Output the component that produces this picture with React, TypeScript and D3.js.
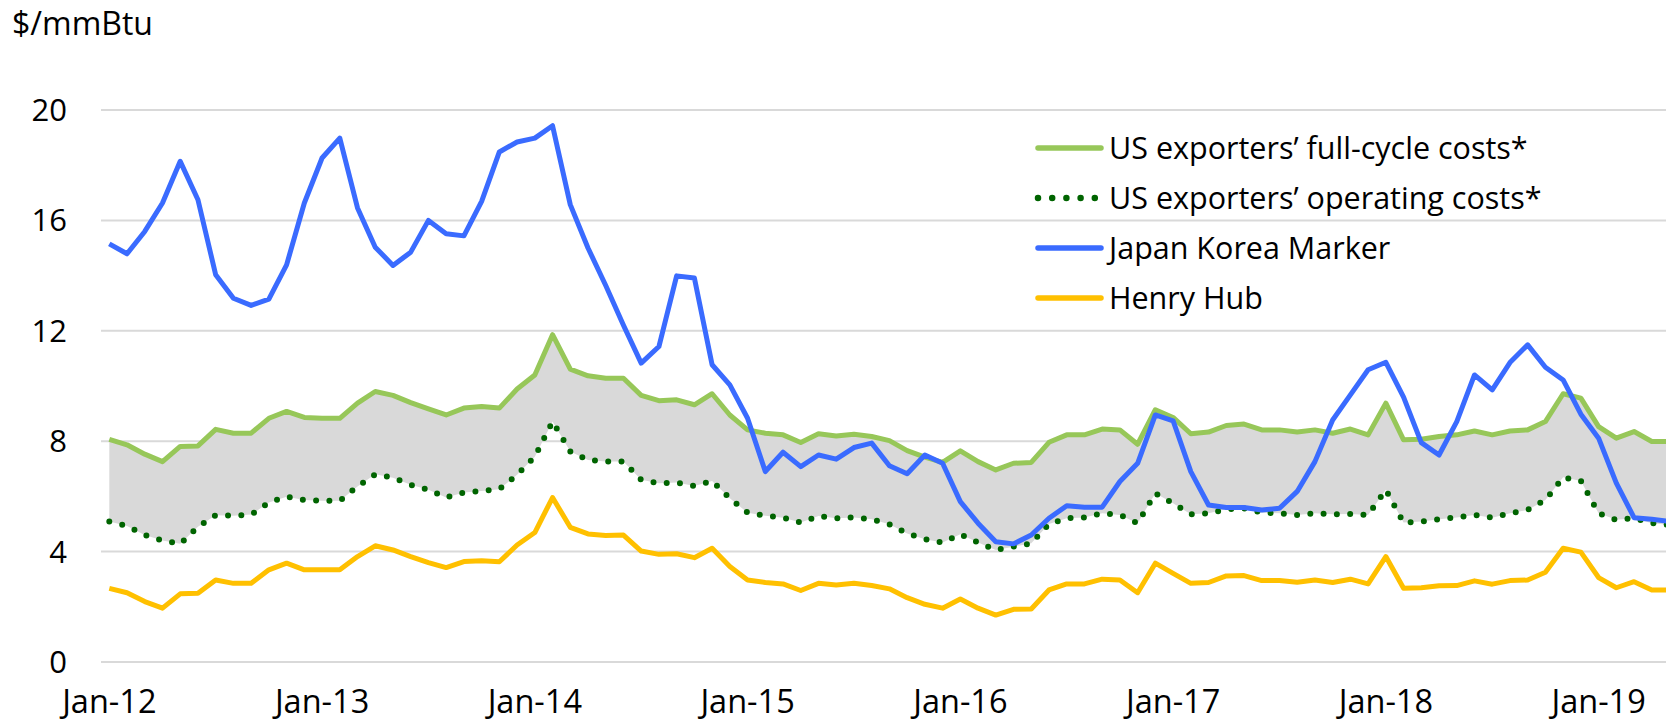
import React, { useEffect } from 'react';
import * as d3 from 'd3';

// monthly, Jan-12 .. May-19 ($/mmBtu)
const jkm = [
  15.15, 14.79, 15.6, 16.63, 18.14, 16.75, 14.03, 13.18, 12.92, 13.15, 14.39, 16.63,
  18.26, 18.98, 16.45, 15.03, 14.37, 14.85, 16.0, 15.52, 15.44, 16.69, 18.48, 18.84,
  18.98, 19.43, 16.57, 15.0, 13.64, 12.2, 10.83, 11.43, 13.99, 13.91, 10.77, 10.04,
  8.83, 6.9, 7.6, 7.08, 7.5, 7.35, 7.77, 7.93, 7.11, 6.82, 7.5, 7.2,
  5.81, 5.03, 4.36, 4.28, 4.6, 5.21, 5.66, 5.61, 5.61, 6.54, 7.2, 8.95,
  8.74, 6.9, 5.69, 5.6, 5.6, 5.51, 5.57, 6.18, 7.26, 8.77, 9.68, 10.59,
  10.86, 9.6, 7.95, 7.5, 8.71, 10.4, 9.86, 10.85, 11.49, 10.68, 10.22, 8.98,
  8.11, 6.48, 5.23, 5.17, 5.09,
];

const fullCycle = [
  8.07, 7.87, 7.53, 7.26, 7.81, 7.83, 8.43, 8.29, 8.29, 8.83, 9.08, 8.86,
  8.83, 8.83, 9.38, 9.8, 9.66, 9.4, 9.17, 8.95, 9.2, 9.26, 9.2, 9.89,
  10.4, 11.86, 10.61, 10.37, 10.28, 10.28, 9.66, 9.47, 9.5, 9.32, 9.72, 8.95,
  8.41, 8.29, 8.23, 7.95, 8.27, 8.19, 8.25, 8.17, 8.02, 7.66, 7.42, 7.23,
  7.65, 7.26, 6.96, 7.2, 7.23, 7.96, 8.23, 8.23, 8.44, 8.41, 7.89, 9.14,
  8.86, 8.27, 8.33, 8.57, 8.62, 8.41, 8.41, 8.33, 8.41, 8.29, 8.44, 8.23,
  9.38, 8.05, 8.07, 8.17, 8.23, 8.37, 8.23, 8.37, 8.41, 8.71, 9.72, 9.56,
  8.53, 8.11, 8.35, 7.99, 7.99,
];

const operating = [
  5.09, 4.93, 4.6, 4.4, 4.28, 4.9, 5.32, 5.3, 5.34, 5.78, 5.99, 5.87,
  5.84, 5.84, 6.36, 6.8, 6.68, 6.42, 6.24, 5.96, 6.14, 6.2, 6.26, 6.78,
  7.44, 8.71, 7.63, 7.32, 7.26, 7.26, 6.6, 6.48, 6.5, 6.38, 6.56, 5.93,
  5.41, 5.3, 5.23, 5.05, 5.29, 5.21, 5.24, 5.17, 4.99, 4.66, 4.45, 4.33,
  4.63, 4.33, 4.06, 4.18, 4.3, 5.0, 5.21, 5.24, 5.39, 5.33, 5.03, 6.11,
  5.75, 5.35, 5.39, 5.53, 5.57, 5.41, 5.39, 5.33, 5.39, 5.35, 5.36, 5.33,
  6.24, 5.05, 5.09, 5.17, 5.24, 5.33, 5.23, 5.39, 5.51, 5.87, 6.69, 6.56,
  5.39, 5.15, 5.21, 5.03, 4.97,
];

const henryHub = [
  2.67, 2.51, 2.19, 1.95, 2.47, 2.49, 2.97, 2.85, 2.85, 3.34, 3.58, 3.34,
  3.34, 3.34, 3.82, 4.21, 4.06, 3.82, 3.6, 3.42, 3.64, 3.67, 3.63, 4.24,
  4.69, 5.96, 4.88, 4.64, 4.58, 4.6, 4.02, 3.9, 3.92, 3.78, 4.12, 3.46,
  2.97, 2.88, 2.83, 2.59, 2.85, 2.79, 2.85, 2.77, 2.65, 2.33, 2.09, 1.95,
  2.28, 1.95, 1.7, 1.91, 1.92, 2.61, 2.83, 2.83, 3.0, 2.97, 2.51, 3.58,
  3.21, 2.85, 2.88, 3.12, 3.13, 2.95, 2.95, 2.89, 2.97, 2.88, 3.0, 2.83,
  3.82, 2.67, 2.69, 2.76, 2.77, 2.94, 2.82, 2.95, 2.97, 3.25, 4.12, 3.98,
  3.06, 2.69, 2.91, 2.61, 2.61,
];

const xTickLabels = ['Jan-12', 'Jan-13', 'Jan-14', 'Jan-15', 'Jan-16', 'Jan-17', 'Jan-18', 'Jan-19'];
const yTicks = [0, 4, 8, 12, 16, 20];
const legendLabels = [
  'US exporters\u2019 full-cycle costs*',
  'US exporters\u2019 operating costs*',
  'Japan Korea Marker',
  'Henry Hub',
];

const W = 1666;
const H = 722;
const FONT = '"Open Sans", "Liberation Sans", Arial, sans-serif';

const GREEN = '#97c759';
const DOTS = '#006400';
const BLUE = '#3a6bff';
const GOLD = '#ffc000';

export default function App() {
  useEffect(() => {
    document.body.style.margin = '0';
  }, []);

  const x = d3.scaleLinear().domain([0, 84]).range([109.3, 1598.6]);
  const y = d3.scaleLinear().domain([0, 20]).range([662, 110]);
  const idx = d3.range(jkm.length);

  const line = (vals: number[]) =>
    d3.line<number>().x(i => x(i)).y(i => y(vals[i]))(idx) || '';

  const band = d3.area<number>()
    .x(i => x(i))
    .y0(i => y(operating[i]))
    .y1(i => y(fullCycle[i]))(idx) || '';

  // legend rows
  const legY = [148, 198, 248, 298];
  const legStyles = [
    { stroke: GREEN, dash: undefined, w: 5.5 },
    { stroke: DOTS, dash: '0 14.2', w: 6.5 },
    { stroke: BLUE, dash: undefined, w: 5.5 },
    { stroke: GOLD, dash: undefined, w: 5.5 },
  ];

  return (
    <svg width={W} height={H} style={{ position: 'absolute', left: 0, top: 0, background: '#fff' }}
      fontFamily={FONT}>
      <text x={12} y={35} fontSize={32} fill="#000">$/mmBtu</text>

      {/* gridlines + y labels */}
      {yTicks.map(t => (
        <g key={t}>
          <line x1={101} x2={W} y1={y(t)} y2={y(t)} stroke="#d9d9d9" strokeWidth={2} />
          <text x={67} y={y(t) + 11} textAnchor="end" fontSize={31} fill="#000">{t}</text>
        </g>
      ))}

      {/* x labels */}
      {xTickLabels.map((lab, k) => (
        <text key={lab} x={x(k * 12)} y={713} textAnchor="middle" fontSize={32.5} fill="#000">{lab}</text>
      ))}

      <path d={band} fill="#d9d9d9" stroke="none" />
      <path d={line(fullCycle)} fill="none" stroke={GREEN} strokeWidth={5} strokeLinejoin="round" />
      <path d={line(operating)} fill="none" stroke={DOTS} strokeWidth={6} strokeLinecap="round"
        strokeDasharray="0 13.3" />
      <path d={line(henryHub)} fill="none" stroke={GOLD} strokeWidth={5} strokeLinejoin="round" />
      <path d={line(jkm)} fill="none" stroke={BLUE} strokeWidth={5} strokeLinejoin="round" />

      {/* legend */}
      {legendLabels.map((lab, k) => (
        <g key={lab}>
          <line x1={1038} x2={k === 1 ? 1096 : 1101} y1={legY[k]} y2={legY[k]}
            stroke={legStyles[k].stroke} strokeWidth={legStyles[k].w} strokeLinecap="round"
            strokeDasharray={legStyles[k].dash} />
          <text x={1109} y={legY[k] + 11} fontSize={30.5} fill="#000">{lab}</text>
        </g>
      ))}
    </svg>
  );
}
